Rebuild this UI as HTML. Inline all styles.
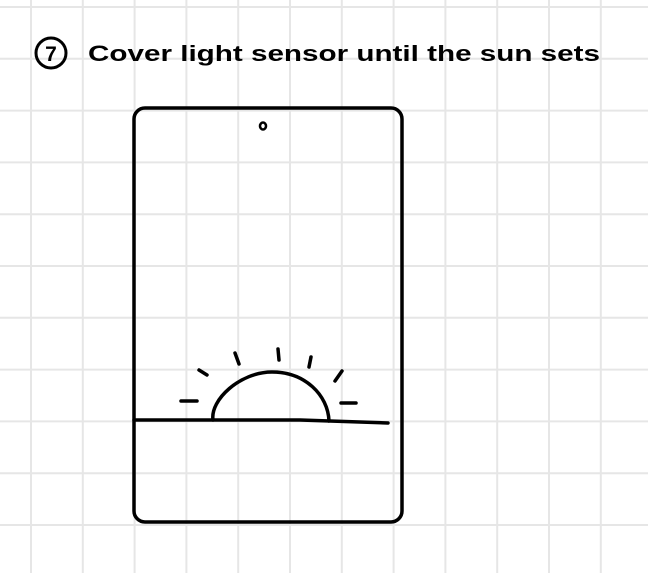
<!DOCTYPE html>
<html><head><meta charset="utf-8"><style>
html,body{margin:0;padding:0;background:#fff}
svg{display:block}
</style></head><body>
<svg width="648" height="573" viewBox="0 0 648 573">
<g stroke="#e6e6e6" stroke-width="2" id="grid"></g>
<g>
<circle cx="51" cy="53" r="15" fill="none" stroke="#000" stroke-width="3"/>
<text x="51" y="61" font-family="Liberation Sans, sans-serif" font-size="21" font-weight="bold" text-anchor="middle">7</text>
<text x="88" y="61" font-family="Liberation Sans, sans-serif" font-size="22" font-weight="bold" textLength="512" lengthAdjust="spacingAndGlyphs">Cover light sensor until the sun sets</text>
</g>
<g fill="none" stroke="#000" stroke-width="3.5" stroke-linecap="round">
<rect x="134" y="108" width="268" height="414" rx="11"/>
<ellipse cx="263" cy="126" rx="3" ry="3.5" stroke-width="2.5"/>
<path d="M134 420 L300 420 L388 423"/>
<path d="M213 420 C210 400 240 372 272 372 C305 372 328 395 329 421"/>
<g>
<path d="M181 401 L197 401"/><path d="M199 370 L207 375"/><path d="M235 353 L239 364"/>
<path d="M278 349 L279 360"/><path d="M311 357 L309 367"/><path d="M342 371 L335 381"/>
<path d="M341 403 L356 403"/>
</g>
</g>
<script>
const g=document.getElementById('grid');
for(let i=0;i<13;i++){const x=31+i*51.8;const l=document.createElementNS('http://www.w3.org/2000/svg','line');


l.setAttribute('x1',x);l.setAttribute('x2',x);l.setAttribute('y1',0);l.setAttribute('y2',573);g.appendChild(l);}
for(let i=0;i<12;i++){const y=7+i*51.8;const l=document.createElementNS('http://www.w3.org/2000/svg','line');


l.setAttribute('y1',y);l.setAttribute('y2',y);l.setAttribute('x1',0);l.setAttribute('x2',648);g.appendChild(l);}
</script>
</svg>
</body></html>
